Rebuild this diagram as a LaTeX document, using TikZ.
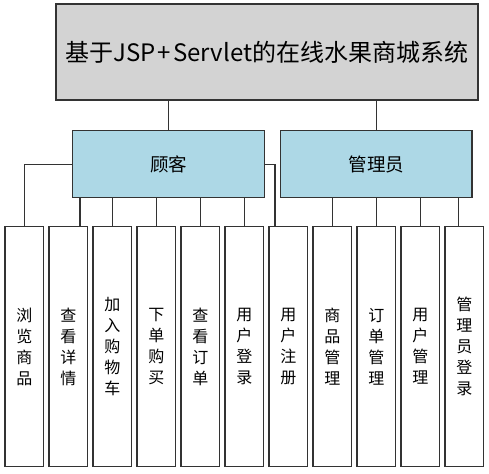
\documentclass[tikz,border=0pt]{standalone}
\usepackage{fontspec}
\setmainfont{Noto Sans CJK SC}
\definecolor{topgray}{HTML}{D3D3D3}
\definecolor{boxblue}{HTML}{ADD8E6}
\definecolor{linec}{HTML}{333333}
\begin{document}
\begin{tikzpicture}[x=1pt,y=-1pt,
  every node/.style={inner sep=0pt, outer sep=0pt},
  box/.style={draw=linec, line width=1.3pt, rectangle},
  topbox/.style={box, fill=topgray, minimum width=422pt, minimum height=96pt, font=\fontsize{24}{28}\selectfont},
  midbox/.style={box, fill=boxblue, minimum width=191.5pt, minimum height=67pt, font=\fontsize{18.5}{22}\selectfont},
  leaf/.style={box, fill=white, minimum width=38.7pt, minimum height=240pt, align=center, font=\fontsize{16}{21}\selectfont},
  conn/.style={draw=linec, line width=1.3pt}
]
\useasboundingbox (0,0) rectangle (489,473);
\node[topbox] (top) at (267,52) {基于JSP\kern2pt+\kern2pt Servlet的在线水果商城系统};
\node[midbox] (cust) at (168.5,164.2) {顾客};
\node[midbox] (admin) at (376.3,164.2) {管理员};
\node[leaf] (b1) at (24.3,346.7) {浏\\览\\商\\品};
\node[leaf] (b2) at (68.3,346.7) {查\\看\\详\\情};
\node[leaf] (b3) at (112.3,346.7) {加\\入\\购\\物\\车};
\node[leaf] (b4) at (156.3,346.7) {下\\单\\购\\买};
\node[leaf] (b5) at (200.3,346.7) {查\\看\\订\\单};
\node[leaf] (b6) at (244.3,346.7) {用\\户\\登\\录};
\node[leaf] (b7) at (288.3,346.7) {用\\户\\注\\册};
\node[leaf] (b8) at (332.3,346.7) {商\\品\\管\\理};
\node[leaf] (b9) at (376.3,346.7) {订\\单\\管\\理};
\node[leaf] (b10) at (420.3,346.7) {用\\户\\管\\理};
\node[leaf] (b11) at (464.3,346.7) {管\\理\\员\\登\\录};
% top to middle
\draw[conn] (top.south -| cust.north) -- (cust.north);
\draw[conn] (top.south -| admin.north) -- (admin.north);
% customer branches
\draw[conn] (cust.west) -| (b1.north);
\draw[conn] ([xshift=11.7pt]b2.north) -- ([xshift=11.7pt]b2.north |- cust.south);
\draw[conn] (b3.north) -- (b3.north |- cust.south);
\draw[conn] (b4.north) -- (b4.north |- cust.south);
\draw[conn] (b5.north) -- (b5.north |- cust.south);
\draw[conn] (b6.north) -- (b6.north |- cust.south);
\draw[conn] (cust.east) -| ([xshift=-13.3pt]b7.north);
% admin branches
\draw[conn] (b8.north) -- (b8.north |- admin.south);
\draw[conn] (b9.north) -- (b9.north |- admin.south);
\draw[conn] (b10.north) -- (b10.north |- admin.south);
\draw[conn] ([xshift=-5.6pt]b11.north) -- ([xshift=-5.6pt]b11.north |- admin.south);
\end{tikzpicture}
\end{document}
